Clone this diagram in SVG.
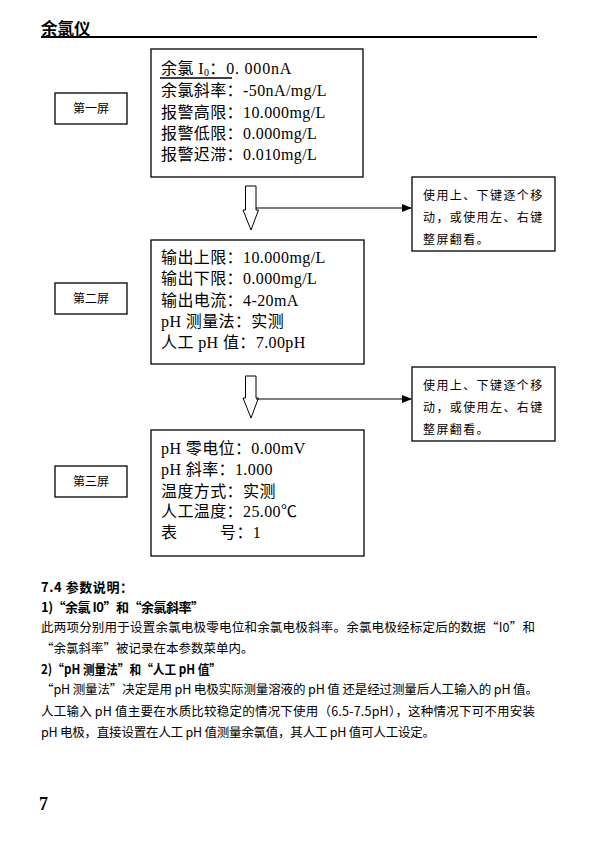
<svg xmlns="http://www.w3.org/2000/svg" width="600" height="845" viewBox="0 0 600 845">
<defs>
<style>
.box{fill:#fff;stroke:#000;stroke-width:1.3}
.t{font-family:"Liberation Serif","Noto Sans CJK SC",serif;font-size:16px;letter-spacing:0.4px;fill:#000}
.lbl{font-family:"Noto Sans CJK SC",sans-serif;font-size:12px;fill:#000}
.note{font-family:"Noto Sans CJK SC",sans-serif;font-size:12px;fill:#000;letter-spacing:1.4px}
.body{font-family:"Noto Sans CJK SC",sans-serif;font-size:12.5px;fill:#000}
.bold{font-family:"Noto Sans CJK SC",sans-serif;font-size:13px;font-weight:bold;fill:#000}
.conn{stroke:#000;stroke-width:1.2;fill:none}
.hollow{fill:#fff;stroke:#000;stroke-width:1}
</style>
<marker id="ah" markerWidth="10" markerHeight="8" refX="9" refY="4" orient="auto" markerUnits="userSpaceOnUse">
<path d="M0,0 L10,4 L0,8 Z" fill="#000"/>
</marker>
</defs>
<rect width="600" height="845" fill="#fff"/>

<g id="header">
<text x="41" y="35" font-family="'Noto Sans CJK SC',sans-serif" font-size="16.5" font-weight="bold">余氯仪</text>
<line x1="41" y1="37" x2="537" y2="37" stroke="#000" stroke-width="2"/>
</g>

<g id="screen1">
<rect class="box" x="151" y="49" width="212" height="128"/>
<text class="t" x="161" y="74">余氯 I<tspan font-size="10" dy="2">0</tspan><tspan dy="-2" letter-spacing="0.8">：0. 000nA</tspan></text>
<line x1="160" y1="78" x2="232" y2="78" stroke="#000" stroke-width="1.3"/>
<text class="t" x="161" y="96">余氯斜率：-50nA/mg/L</text>
<text class="t" x="161" y="118">报警高限：10.000mg/L</text>
<text class="t" x="161" y="139">报警低限：0.000mg/L</text>
<text class="t" x="161" y="160">报警迟滞：0.010mg/L</text>
</g>
<g id="label1">
<rect class="box" x="55" y="93" width="72" height="31" stroke-width="1"/>
<text class="lbl" x="91" y="113" text-anchor="middle">第一屏</text>
</g>

<g id="screen2">
<rect class="box" x="151" y="240" width="213" height="124"/>
<text class="t" x="161" y="263">输出上限：10.000mg/L</text>
<text class="t" x="161" y="284">输出下限：0.000mg/L</text>
<text class="t" x="161" y="306">输出电流：4-20mA</text>
<text class="t" x="161" y="327">pH 测量法：实测</text>
<text class="t" x="161" y="348">人工 pH 值：7.00pH</text>
</g>
<g id="label2">
<rect class="box" x="55" y="283" width="72" height="31" stroke-width="1"/>
<text class="lbl" x="91" y="303" text-anchor="middle">第二屏</text>
</g>

<g id="screen3">
<rect class="box" x="151" y="430" width="213" height="126"/>
<text class="t" x="161" y="454">pH 零电位：0.00mV</text>
<text class="t" x="161" y="475">pH 斜率：1.000</text>
<text class="t" x="161" y="497">温度方式：实测</text>
<text class="t" x="161" y="517">人工温度：25.00℃</text>
<text class="t" x="161" y="538">表<tspan x="220">号：1</tspan></text>
</g>
<g id="label3">
<rect class="box" x="55" y="466" width="72" height="31" stroke-width="1"/>
<text class="lbl" x="91" y="486" text-anchor="middle">第三屏</text>
</g>

<g id="note1">
<rect class="box" x="412" y="177" width="143" height="74"/>
<text class="note" x="423" y="200">使用上、下键逐个移</text>
<text class="note" x="423" y="222">动，或使用左、右键</text>
<text class="note" x="423" y="244">整屏翻看。</text>
</g>
<g id="note2">
<rect class="box" x="412" y="367" width="143" height="74"/>
<text class="note" x="423" y="390">使用上、下键逐个移</text>
<text class="note" x="423" y="412">动，或使用左、右键</text>
<text class="note" x="423" y="434">整屏翻看。</text>
</g>

<g id="connectors">
<path class="hollow" d="M245.5,186 H256 V210 H258.5 L251,230 L243,210 H245.5 Z"/>
<line class="conn" x1="256" y1="208" x2="411" y2="208" marker-end="url(#ah)"/>
<path class="hollow" d="M245.5,376 H256 V398 H258.5 L251,418 L243,398 H245.5 Z"/>
<line class="conn" x1="256" y1="399" x2="411" y2="399" marker-end="url(#ah)"/>
</g>

<g id="description">
<text class="bold" x="41" y="592" textLength="92" lengthAdjust="spacing">7.4 参数说明：</text>
<text class="bold" x="41" y="612" textLength="163" lengthAdjust="spacing">1)“余氯 I0”和“余氯斜率”</text>
<text class="body" x="41" y="632" textLength="494" lengthAdjust="spacing">此两项分别用于设置余氯电极零电位和余氯电极斜率。余氯电极经标定后的数据“I0”和</text>
<text class="body" x="41" y="653">“余氯斜率”被记录在本参数菜单内。</text>
<text class="bold" x="41" y="674" textLength="180" lengthAdjust="spacingAndGlyphs">2)“pH 测量法”和“人工 pH 值”</text>
<text class="body" x="41" y="694" textLength="497" lengthAdjust="spacing">“pH 测量法”决定是用 pH 电极实际测量溶液的 pH 值 还是经过测量后人工输入的 pH 值。</text>
<text class="body" x="41" y="716" textLength="494" lengthAdjust="spacing">人工输入 pH 值主要在水质比较稳定的情况下使用（6.5-7.5pH），这种情况下可不用安装</text>
<text class="body" x="41" y="737" textLength="394" lengthAdjust="spacing">pH 电极，直接设置在人工 pH 值测量余氯值，其人工 pH 值可人工设定。</text>
</g>

<g id="page">
<text x="39" y="810" font-family="'Liberation Serif',serif" font-size="18" font-weight="bold">7</text>
</g>
</svg>
